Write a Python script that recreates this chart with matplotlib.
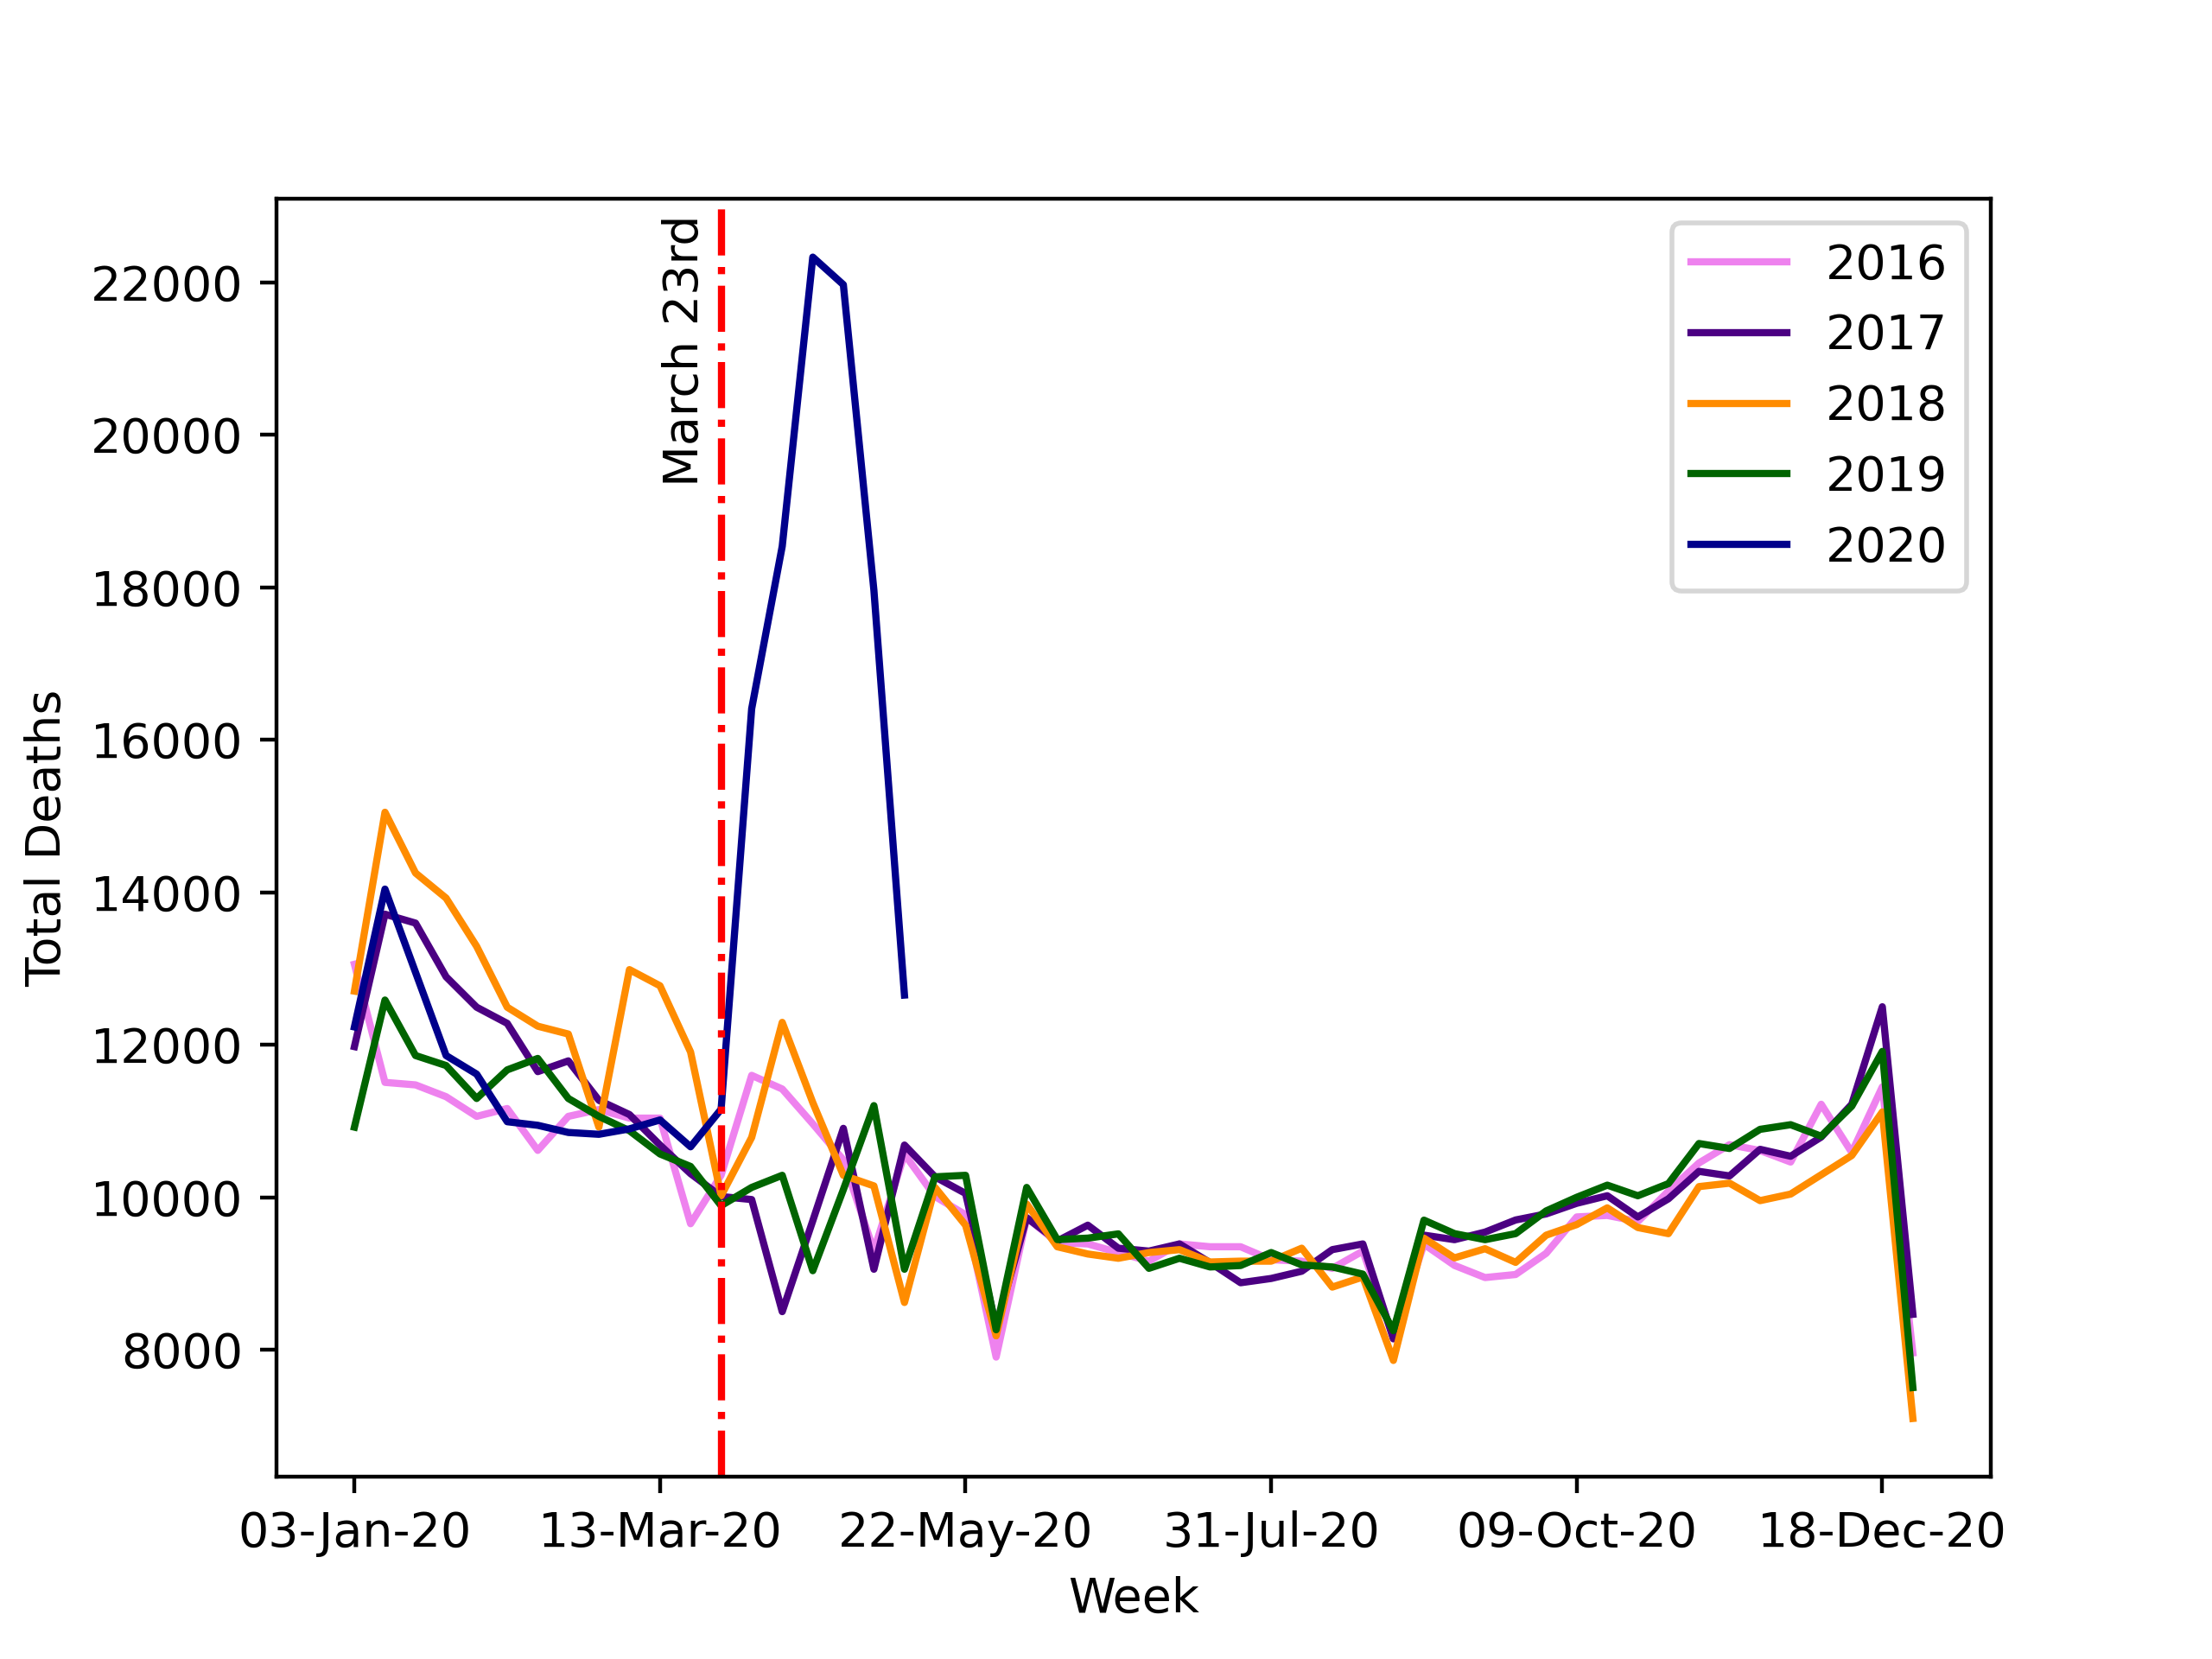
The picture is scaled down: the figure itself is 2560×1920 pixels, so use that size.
import pandas as pd
import matplotlib
matplotlib.use("Agg")
import matplotlib.pyplot as plt

# week ending dates (Fridays) used as x labels
weeks = list(pd.date_range("2020-01-03", periods=52, freq="7D").strftime("%d-%b-%y"))

deaths_2016 = [13056, 11507, 11474, 11319, 11061, 11164, 10615, 11061, 11150, 11038,
               11038, 9653, 10290, 11599, 11420, 10963, 10490, 9300, 10566, 10010,
               9771, 7904, 9732, 9407, 9388, 9275, 9162, 9388, 9351, 9351,
               9181, 9162, 9068, 9294, 8162, 9384, 9106, 8947, 8987, 9265,
               9742, 9762, 9682, 10080, 10450, 10690, 10613, 10462, 11220, 10588,
               11448, 7959]
deaths_2017 = [11976, 13713, 13596, 12892, 12493, 12281, 11648, 11789, 11272, 11085,
               10685, 10310, 10010, 9970, 8500, 9692, 10904, 9056, 10685, 10268,
               10050, 8302, 9732, 9426, 9634, 9332, 9294, 9388, 9143, 8879,
               8935, 9030, 9313, 9388, 8143, 9503, 9444, 9543, 9702, 9782,
               9921, 10020, 9742, 9980, 10340, 10280, 10629, 10538, 10790, 11220,
               12499, 8465]
deaths_2018 = [12704, 15050, 14253, 13924, 13291, 12493, 12244, 12141, 10920, 12986,
               12774, 11906, 10020, 10785, 12294, 11242, 10288, 10149, 8620, 10129,
               9633, 8182, 9911, 9351, 9256, 9200, 9275, 9313, 9151, 9162,
               9162, 9332, 8822, 8954, 7860, 9464, 9205, 9325, 9146, 9503,
               9642, 9861, 9603, 9523, 10140, 10185, 9956, 10042, 10295, 10548,
               11119, 7099]
deaths_2019 = [10920, 12587, 11859, 11728, 11296, 11671, 11821, 11296, 11061, 10873,
               10568, 10404, 9890, 10129, 10288, 9037, 10100, 11202, 9056, 10268,
               10288, 8262, 10129, 9445, 9464, 9520, 9068, 9200, 9086, 9105,
               9275, 9113, 9086, 8992, 8250, 9700, 9523, 9444, 9523, 9821,
               10000, 10159, 10020, 10179, 10705, 10640, 10891, 10952, 10801, 11195,
               11913, 7504]
deaths_2020 = [12234, 14042, 12950, 11859, 11615, 10991, 10944, 10850, 10826, 10897,
               11014, 10662, 11155, 16408, 18539, 22331, 21970, 17961, 12652]

years = ["2016", "2017", "2018", "2019", "2020"]
colours = ["violet", "indigo", "darkorange", "darkgreen", "darkblue"]
series = [deaths_2016, deaths_2017, deaths_2018, deaths_2019, deaths_2020]

lockdown_week = 12  # week containing March 23rd

fig, ax = plt.subplots(figsize=(6.4, 4.8), dpi=400)

for yr, col, vals in zip(years, colours, series):
    ax.plot(range(len(vals)), vals, color=col, label=yr)

ax.axvline(lockdown_week, color="r", linestyle="-.")
ax.text(lockdown_week - 0.43, 19320, "March 23rd", rotation=90, ha="right", va="bottom")

ax.set_xticks(range(0, len(weeks), 10))
ax.set_xticklabels(weeks[::10])
ax.set_xlabel("Week")
ax.set_ylabel("Total Deaths")
ax.legend(loc="upper right")

fig.savefig("out.png", dpi=400)
